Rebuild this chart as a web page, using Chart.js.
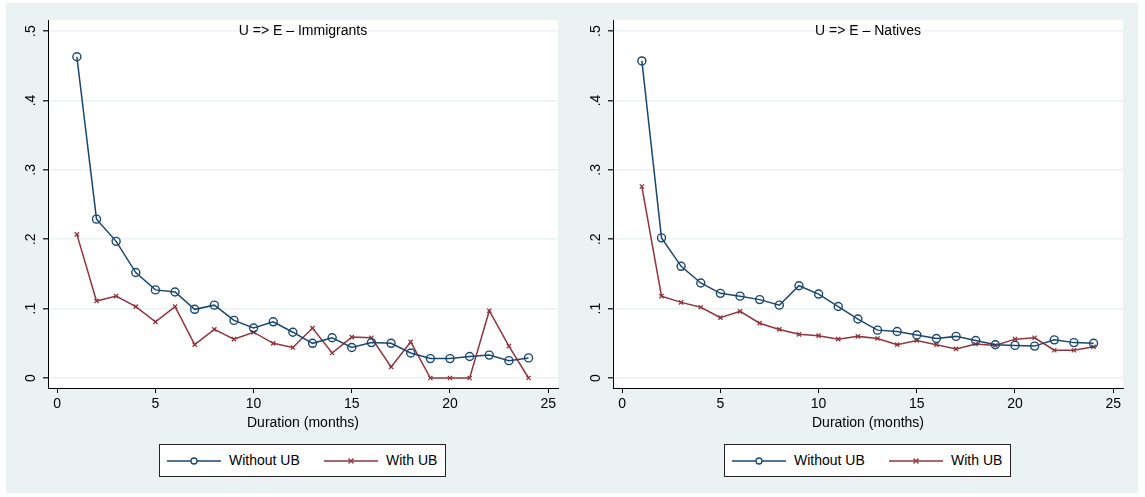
<!DOCTYPE html>
<html>
<head>
<meta charset="utf-8">
<script src="https://cdn.jsdelivr.net/npm/chart.js@4.4.1/dist/chart.umd.min.js"></script>
<style>
  body { margin: 0; background: #fff; font-family: "Liberation Sans", Arial, sans-serif; }
  #bg { position: absolute; left: 6px; top: 3px; width: 1132px; height: 490px; background: #eaf2f3; }
  .panel { position: absolute; top: 0; width: 572px; height: 440px; }
  .legend { position: absolute; top: 444px; width: 285px; height: 31px; border: 1px solid #222; background: #fff; font-size: 14px; color: #000; }
  .legend svg { position: absolute; top: 10px; }
  .legend span { position: absolute; top: 7px; white-space: nowrap; }
</style>
</head>
<body>
<div id="bg"></div>
<div class="panel" style="left:0px"><canvas id="immig"></canvas></div>
<div class="panel" style="left:565px"><canvas id="natives"></canvas></div>

<div class="legend" style="left:159px">
  <svg width="56" height="12" style="left:6px"><line x1="1" y1="6" x2="55" y2="6" stroke="#1a476f" stroke-width="1.5"/><circle cx="28" cy="6" r="3" fill="#fff" stroke="#1a476f" stroke-width="1.3"/></svg>
  <span style="left:69px">Without UB</span>
  <svg width="56" height="12" style="left:163px"><line x1="1" y1="6" x2="55" y2="6" stroke="#90353b" stroke-width="1.5"/><path d="M25.5 3.5 L30.5 8.5 M30.5 3.5 L25.5 8.5" stroke="#90353b" stroke-width="1.3"/></svg>
  <span style="left:226px">With UB</span>
</div>
<div class="legend" style="left:724px">
  <svg width="56" height="12" style="left:6px"><line x1="1" y1="6" x2="55" y2="6" stroke="#1a476f" stroke-width="1.5"/><circle cx="28" cy="6" r="3" fill="#fff" stroke="#1a476f" stroke-width="1.3"/></svg>
  <span style="left:69px">Without UB</span>
  <svg width="56" height="12" style="left:163px"><line x1="1" y1="6" x2="55" y2="6" stroke="#90353b" stroke-width="1.5"/><path d="M25.5 3.5 L30.5 8.5 M30.5 3.5 L25.5 8.5" stroke="#90353b" stroke-width="1.3"/></svg>
  <span style="left:226px">With UB</span>
</div>

<script>
// durations in months
const months = [1,2,3,4,5,6,7,8,9,10,11,12,13,14,15,16,17,18,19,20,21,22,23,24];

// U => E hazard, immigrants
const immigNoUB = [0.463,0.229,0.197,0.152,0.127,0.124,0.099,0.105,0.083,0.072,0.081,0.066,
                   0.050,0.058,0.044,0.051,0.050,0.036,0.028,0.028,0.031,0.033,0.025,0.029];
const immigUB   = [0.207,0.111,0.118,0.103,0.081,0.103,0.048,0.070,0.056,0.066,0.050,0.044,
                   0.072,0.036,0.059,0.058,0.016,0.052,0.000,0.000,0.000,0.097,0.046,0.000];

// U => E hazard, natives
const nativeNoUB = [0.457,0.202,0.161,0.137,0.122,0.118,0.113,0.105,0.133,0.121,0.103,0.085,
                    0.069,0.067,0.062,0.057,0.060,0.054,0.048,0.047,0.046,0.055,0.051,0.050];
const nativeUB   = [0.276,0.118,0.109,0.102,0.087,0.096,0.079,0.070,0.063,0.061,0.056,0.060,
                    0.057,0.048,0.054,0.048,0.042,0.049,0.047,0.056,0.058,0.040,0.040,0.045];

const xTicks = [0, 5, 10, 15, 20, 25];
const yTicks = [0, 0.1, 0.2, 0.3, 0.4, 0.5];
const yTickLabels = ['0', '.1', '.2', '.3', '.4', '.5'];

const BLUE = '#1a476f';
const RED = '#90353b';
const FONT = { family: '"Liberation Sans", Arial, sans-serif', size: 14 };

// white plot region + title inside the top of it
const panelBits = {
  id: 'panelBits',
  beforeDraw(chart) {
    const { ctx, chartArea: a } = chart;
    ctx.save();
    ctx.fillStyle = '#fff';
    ctx.fillRect(a.left, a.top, a.right - a.left, a.bottom - a.top);
    ctx.restore();
  },
  afterDraw(chart, args, opts) {
    const { ctx, chartArea: a } = chart;
    ctx.save();
    ctx.font = '14px "Liberation Sans", Arial, sans-serif';
    ctx.fillStyle = '#000';
    ctx.textAlign = 'center';
    ctx.textBaseline = 'middle';
    ctx.fillText(opts.text, (a.left + a.right) / 2, a.top + 11);
    ctx.restore();
  }
};

function toXY(arr) {
  return months.map((m, i) => ({ x: m, y: arr[i] }));
}

function makeChart(id, title, noUB, withUB) {
  new Chart(document.getElementById(id), {
    type: 'line',
    data: {
      datasets: [
        {
          label: 'Without UB',
          data: toXY(noUB),
          borderColor: BLUE,
          borderWidth: 1.5,
          pointStyle: 'circle',
          pointRadius: 4,
          pointBorderWidth: 1.4,
          pointBackgroundColor: 'rgba(0,0,0,0)',
          pointBorderColor: BLUE,
          tension: 0
        },
        {
          label: 'With UB',
          data: toXY(withUB),
          borderColor: RED,
          borderWidth: 1.5,
          pointStyle: 'crossRot',
          pointRadius: 3,
          pointBorderWidth: 1.3,
          pointBorderColor: RED,
          tension: 0
        }
      ]
    },
    options: {
      responsive: true,
      maintainAspectRatio: false,
      animation: false,
      layout: { padding: { left: 0, right: 14, top: 20, bottom: 0 } },
      plugins: {
        legend: { display: false },
        tooltip: { enabled: false },
        panelBits: { text: title }
      },
      scales: {
        x: {
          type: 'linear',
          min: -0.47,
          max: 25.5,
          afterBuildTicks: s => { s.ticks = xTicks.map(v => ({ value: v })); },
          afterFit: s => { s.height = 52; },
          grid: { drawOnChartArea: false, drawTicks: true, tickLength: 5, tickColor: '#000' },
          border: { color: '#000', width: 1 },
          ticks: { color: '#000', font: FONT, padding: 3, maxRotation: 0 },
          title: { display: true, text: 'Duration (months)', color: '#000', font: FONT, padding: { top: 0, bottom: 8 } }
        },
        y: {
          min: -0.0144,
          max: 0.516,
          afterBuildTicks: s => { s.ticks = yTicks.map(v => ({ value: v })); },
          afterFit: s => { s.width = 48; },
          grid: { color: '#eaf2f3', lineWidth: 1.5, tickLength: 5, tickColor: '#333' },
          border: { color: '#000', width: 1 },
          ticks: {
            color: '#000', font: FONT, padding: 6,
            minRotation: 90, maxRotation: 90, crossAlign: 'center',
            callback: (v, i) => yTickLabels[i]
          }
        }
      }
    },
    plugins: [panelBits]
  });
}

makeChart('immig', 'U => E \u2013 Immigrants', immigNoUB, immigUB);
makeChart('natives', 'U => E \u2013 Natives', nativeNoUB, nativeUB);
</script>
</body>
</html>
